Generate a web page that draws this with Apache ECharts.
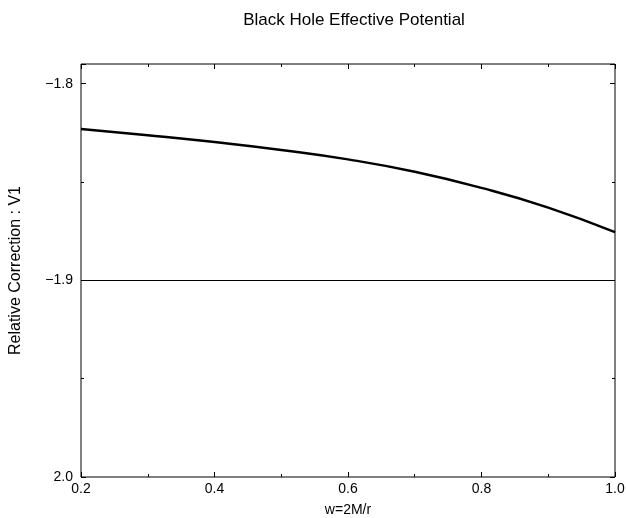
<!DOCTYPE html>
<html>
<head>
<meta charset="utf-8">
<script src="https://cdn.jsdelivr.net/npm/echarts@6/dist/echarts.min.js"></script>
<style>
  html, body { margin: 0; padding: 0; background: #fff; }
  #chart { width: 626px; height: 518px; }
</style>
</head>
<body>
<div id="chart"></div>
<script>
// w = 2M/r values and the relative correction
var wValues = [0.2, 0.3, 0.4, 0.5, 0.6, 0.7, 0.8, 0.9, 1.0];
var correction = [-1.8230, -1.8262, -1.8297, -1.8337, -1.8385, -1.8448, -1.8530, -1.8630, -1.8755];
var refLevel = -1.9;
var yTickLabels = { '-1.8': '\u22121.8', '-1.9': '\u22121.9', '-2': '2.0' };

var font = 'Liberation Sans, Arial, sans-serif';
var chart = echarts.init(document.getElementById('chart'));

var pts = wValues.map(function (w, i) { return [w, correction[i]]; });

chart.setOption({
    backgroundColor: '#fff',
    animation: false,
    title: {
        text: 'Black Hole Effective Potential',
        left: 349, top: 7, textAlign: 'center',
        textStyle: { fontFamily: font, fontSize: 17, fontWeight: 'normal', color: '#000' }
    },
    grid: {
        left: 81, right: 11, top: 64, bottom: 41,
        outerBoundsMode: 'none', containLabel: false,
        show: true, borderColor: '#000', borderWidth: 1, backgroundColor: 'transparent'
    },
    xAxis: [{
        type: 'value', min: 0.2, max: 1.0, interval: 0.2,
        name: 'w=2M/r', nameLocation: 'middle', nameGap: 26,
        nameTextStyle: { fontFamily: font, fontSize: 14, color: '#000' },
        axisLine: { show: false },
        axisTick: { inside: true, length: 5, lineStyle: { color: '#000' } },
        minorTick: { show: true, splitNumber: 2, length: 3, lineStyle: { color: '#000' } },
        splitLine: { show: false },
        axisLabel: {
            fontFamily: font, fontSize: 14, color: '#000', margin: 5,
            formatter: function (v) { return v.toFixed(1); }
        }
    }, {
        type: 'value', position: 'top', min: 0.2, max: 1.0, interval: 0.2,
        axisLine: { show: false },
        axisTick: { inside: true, length: 5, lineStyle: { color: '#000' } },
        minorTick: { show: true, splitNumber: 2, length: 3, lineStyle: { color: '#000' } },
        splitLine: { show: false },
        axisLabel: { show: false }
    }],
    yAxis: [{
        type: 'value', min: -2.0, max: -1.79, interval: 0.1,
        name: 'Relative Correction : V1', nameLocation: 'middle', nameGap: 57,
        nameTextStyle: { fontFamily: font, fontSize: 16, color: '#000' },
        axisLine: { show: false },
        axisTick: { inside: true, length: 5, lineStyle: { color: '#000' } },
        minorTick: { show: true, splitNumber: 2, length: 3, lineStyle: { color: '#000' } },
        splitLine: { show: false },
        axisLabel: {
            fontFamily: font, fontSize: 14, color: '#000', margin: 8, showMaxLabel: false,
            formatter: function (v) { return yTickLabels[String(Math.round(v * 10) / 10)] || ''; }
        }
    }, {
        type: 'value', position: 'right', min: -2.0, max: -1.79, interval: 0.1,
        axisLine: { show: false },
        axisTick: { inside: true, length: 5, lineStyle: { color: '#000' } },
        minorTick: { show: true, splitNumber: 2, length: 3, lineStyle: { color: '#000' } },
        splitLine: { show: false },
        axisLabel: { show: false }
    }],
    series: [{
        type: 'line',
        data: pts,
        smooth: true,
        showSymbol: false,
        lineStyle: { color: '#000', width: 2.5 },
        markLine: {
            silent: true,
            symbol: ['none', 'none'],
            label: { show: false },
            lineStyle: { color: '#000', width: 1, type: 'solid' },
            data: [{ yAxis: refLevel }]
        }
    }]
});
</script>
</body>
</html>
